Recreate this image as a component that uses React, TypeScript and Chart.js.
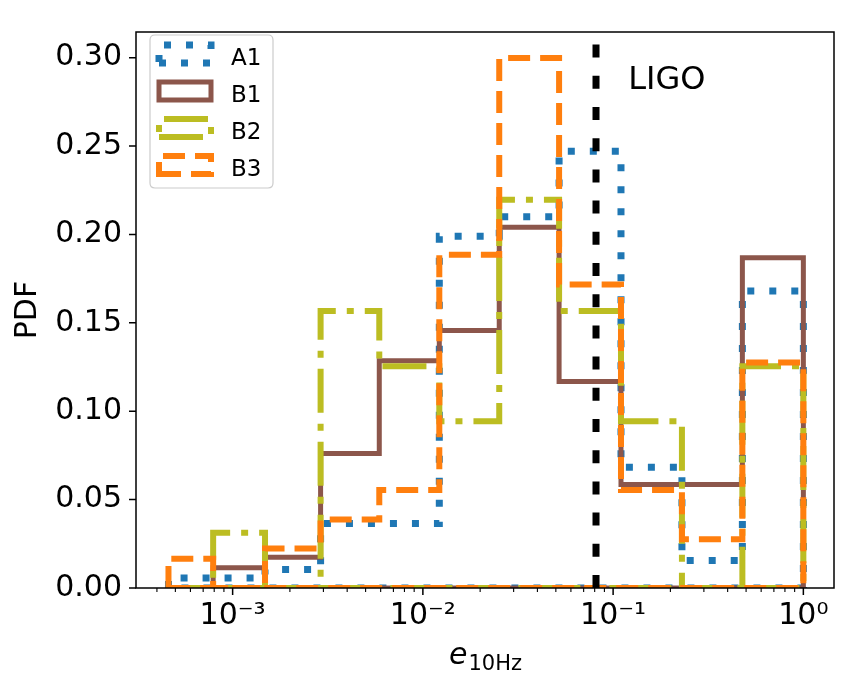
import React, { useEffect, useRef } from 'react';
import { Chart, registerables } from 'chart.js';

Chart.register(...registerables);

// ---- data ----
const binEdges = [4.6e-4, 7.9e-4, 1.48e-3, 2.9e-3, 5.9e-3, 1.22e-2, 2.52e-2, 5.2e-2, 0.11, 0.23, 0.478, 1.0];
const seriesNames = ['A1', 'B1', 'B2', 'B3'];
const a1Values = [0.0056, 0.0056, 0.0104, 0.0365, 0.0365, 0.199, 0.21, 0.247, 0.0683, 0.0156, 0.168];
const b1Values = [0, 0.0115, 0.0174, 0.0761, 0.1285, 0.1457, 0.204, 0.1168, 0.0585, 0.0585, 0.1868];
const b2Values = [0, 0.0313, 0, 0.1567, 0.1254, 0.0943, 0.2196, 0.1567, 0.0943, 0, 0.1254];
const b3Values = [0.0165, 0, 0.0224, 0.0387, 0.0554, 0.1885, 0.2998, 0.1717, 0.0554, 0.0276, 0.1276];
const ligoValue = 0.0813;
const ligoLabel = 'LIGO';
const ligoLabelPos = { x: 0.12, y: 0.282 };
const xTickValues = [1e-3, 1e-2, 1e-1, 1];
const xTickLabels = ['10\u207B\u00B3', '10\u207B\u00B2', '10\u207B\u00B9', '10\u2070'];
const yTickValues = [0, 0.05, 0.1, 0.15, 0.2, 0.25, 0.3];
const yAxisLabel = 'PDF';
const xAxisMain = 'e';
const xAxisSub = '10Hz';

// ---- styles ----
const seriesColors = ['#1f77b4', '#8c564b', '#bcbd22', '#ff7f0e'];
const seriesWidths = [7, 5, 6, 6];
const seriesDashes = [[7, 15], [], [44, 11, 7, 11], [22, 10]];
const X_MIN = 3.105e-4;
const X_MAX = 1.449;
const Y_MAX = 0.3145;
const FONT = '"DejaVu Sans", sans-serif';

function stepOutline(values: number[]) {
  const pts: { x: number; y: number }[] = [{ x: binEdges[0], y: 0 }];
  values.forEach((v, i) => {
    pts.push({ x: binEdges[i], y: v });
    pts.push({ x: binEdges[i + 1], y: v });
  });
  pts.push({ x: binEdges[binEdges.length - 1], y: 0 });
  pts.push({ x: binEdges[0], y: 0 });
  return pts;
}

export default function App() {
  const ref = useRef<HTMLCanvasElement>(null);

  useEffect(() => {
    const canvas = ref.current;
    if (!canvas) return;
    const series = [a1Values, b1Values, b2Values, b3Values];
    const datasets: any[] = series.map((vals, i) => ({
      label: seriesNames[i],
      data: stepOutline(vals),
      borderColor: seriesColors[i],
      backgroundColor: 'rgba(0,0,0,0)',
      borderWidth: seriesWidths[i],
      borderDash: seriesDashes[i],
      borderCapStyle: 'butt',
      borderJoinStyle: 'miter',
      pointRadius: 0,
      fill: false,
      tension: 0,
      order: series.length - i,
    }));
    datasets.push({
      label: ligoLabel,
      data: [{ x: ligoValue, y: 0 }, { x: ligoValue, y: Y_MAX }],
      borderColor: '#000000',
      borderWidth: 7,
      borderDash: [13, 18.2],
      borderCapStyle: 'butt',
      pointRadius: 0,
      fill: false,
      order: 0,
    });

    const decor = {
      id: 'decor',
      afterDatasetsDraw(chart: any) {
        const { ctx, chartArea: a } = chart;
        const xs = chart.scales.x;
        const ys = chart.scales.y;
        ctx.save();
        ctx.setLineDash([]);
        ctx.strokeStyle = '#000';
        ctx.lineWidth = 1.5;
        ctx.strokeRect(a.left, a.top, a.right - a.left, a.bottom - a.top);
        // major ticks
        ctx.beginPath();
        yTickValues.forEach((v) => {
          const py = ys.getPixelForValue(v);
          ctx.moveTo(a.left - 7, py);
          ctx.lineTo(a.left, py);
        });
        xTickValues.forEach((v) => {
          const px = xs.getPixelForValue(v);
          ctx.moveTo(px, a.bottom);
          ctx.lineTo(px, a.bottom + 7);
        });
        ctx.stroke();
        // minor ticks
        ctx.lineWidth = 1.1;
        ctx.beginPath();
        for (let e = -4; e <= 0; e++) {
          for (let m = 2; m <= 9; m++) {
            const v = m * Math.pow(10, e);
            if (v < X_MIN || v > X_MAX) continue;
            const px = xs.getPixelForValue(v);
            ctx.moveTo(px, a.bottom);
            ctx.lineTo(px, a.bottom + 4);
          }
        }
        ctx.stroke();

        // LIGO text
        ctx.fillStyle = '#000';
        ctx.font = `32px ${FONT}`;
        ctx.textAlign = 'left';
        ctx.textBaseline = 'alphabetic';
        ctx.fillText(ligoLabel, xs.getPixelForValue(ligoLabelPos.x), ys.getPixelForValue(ligoLabelPos.y));

        // x axis title with subscript
        ctx.font = `italic 30px ${FONT}`;
        const wMain = ctx.measureText(xAxisMain).width;
        ctx.font = `21px ${FONT}`;
        const wSub = ctx.measureText(xAxisSub).width;
        const cx = (a.left + a.right) / 2;
        const x0 = cx - (wMain + wSub) / 2;
        const base = a.bottom + 76;
        ctx.font = `italic 30px ${FONT}`;
        ctx.fillText(xAxisMain, x0, base);
        ctx.font = `21px ${FONT}`;
        ctx.fillText(xAxisSub, x0 + wMain + 1, base + 6);

        // legend
        const lx = 150, ly = 35, lw = 123, lh = 153, r = 5;
        ctx.beginPath();
        ctx.moveTo(lx + r, ly);
        ctx.lineTo(lx + lw - r, ly);
        ctx.quadraticCurveTo(lx + lw, ly, lx + lw, ly + r);
        ctx.lineTo(lx + lw, ly + lh - r);
        ctx.quadraticCurveTo(lx + lw, ly + lh, lx + lw - r, ly + lh);
        ctx.lineTo(lx + r, ly + lh);
        ctx.quadraticCurveTo(lx, ly + lh, lx, ly + lh - r);
        ctx.lineTo(lx, ly + r);
        ctx.quadraticCurveTo(lx, ly, lx + r, ly);
        ctx.closePath();
        ctx.fillStyle = 'rgba(255,255,255,0.8)';
        ctx.fill();
        ctx.strokeStyle = '#cccccc';
        ctx.lineWidth = 1.2;
        ctx.stroke();
        seriesNames.forEach((name, i) => {
          const cy = 54 + i * 37;
          const left = 159, right = 211, top = cy - 9, bottom = cy + 9;
          ctx.beginPath();
          ctx.setLineDash(seriesDashes[i]);
          ctx.lineDashOffset = 0;
          ctx.strokeStyle = seriesColors[i];
          ctx.lineWidth = seriesWidths[i];
          ctx.lineCap = 'butt';
          ctx.lineJoin = 'miter';
          ctx.moveTo(left, bottom);
          ctx.lineTo(right, bottom);
          ctx.lineTo(right, top);
          ctx.lineTo(left, top);
          ctx.closePath();
          ctx.stroke();
          ctx.setLineDash([]);
          ctx.fillStyle = '#000';
          ctx.font = `23px ${FONT}`;
          ctx.textAlign = 'left';
          ctx.textBaseline = 'alphabetic';
          ctx.fillText(name, 231, cy + 11);
        });
        ctx.restore();
      },
    };

    const chart = new Chart(canvas, {
      type: 'line',
      data: { datasets },
      options: {
        responsive: false,
        devicePixelRatio: 1,
        animation: false,
        events: [],
        layout: { padding: { left: 0, right: 24, top: 21, bottom: 0 } },
        plugins: { legend: { display: false }, tooltip: { enabled: false } },
        scales: {
          x: {
            type: 'logarithmic',
            position: 'bottom',
            bounds: 'data',
            min: X_MIN,
            max: X_MAX,
            grid: { display: false, drawTicks: false },
            border: { display: false },
            ticks: {
              autoSkip: false,
              maxRotation: 0,
              minRotation: 0,
              padding: 10,
              color: '#000',
              font: { family: FONT, size: 30 },
              callback: (_v: any, i: number) => xTickLabels[i],
            },
            afterBuildTicks: (s: any) => {
              s.ticks = xTickValues.map((v) => ({ value: v }));
            },
            afterFit: (s: any) => {
              s.height = 100;
            },
          },
          y: {
            type: 'linear',
            bounds: 'data',
            min: 0,
            max: Y_MAX,
            grid: { display: false, drawTicks: false },
            border: { display: false },
            title: {
              display: true,
              text: yAxisLabel,
              color: '#000',
              font: { family: FONT, size: 30 },
              padding: { top: 10, bottom: 0 },
            },
            ticks: {
              padding: 14,
              color: '#000',
              font: { family: FONT, size: 30 },
              callback: (v: any) => Number(v).toFixed(2),
            },
            afterBuildTicks: (s: any) => {
              s.ticks = yTickValues.map((v) => ({ value: v }));
            },
            afterFit: (s: any) => {
              s.width = 136;
            },
          },
        },
      } as any,
      plugins: [decor],
    });
    return () => chart.destroy();
  }, []);

  return (
    <div style={{ position: 'fixed', left: 0, top: 0, width: 858, height: 688, background: '#fff' }}>
      <canvas ref={ref} width={858} height={688} style={{ display: 'block' }} />
    </div>
  );
}
